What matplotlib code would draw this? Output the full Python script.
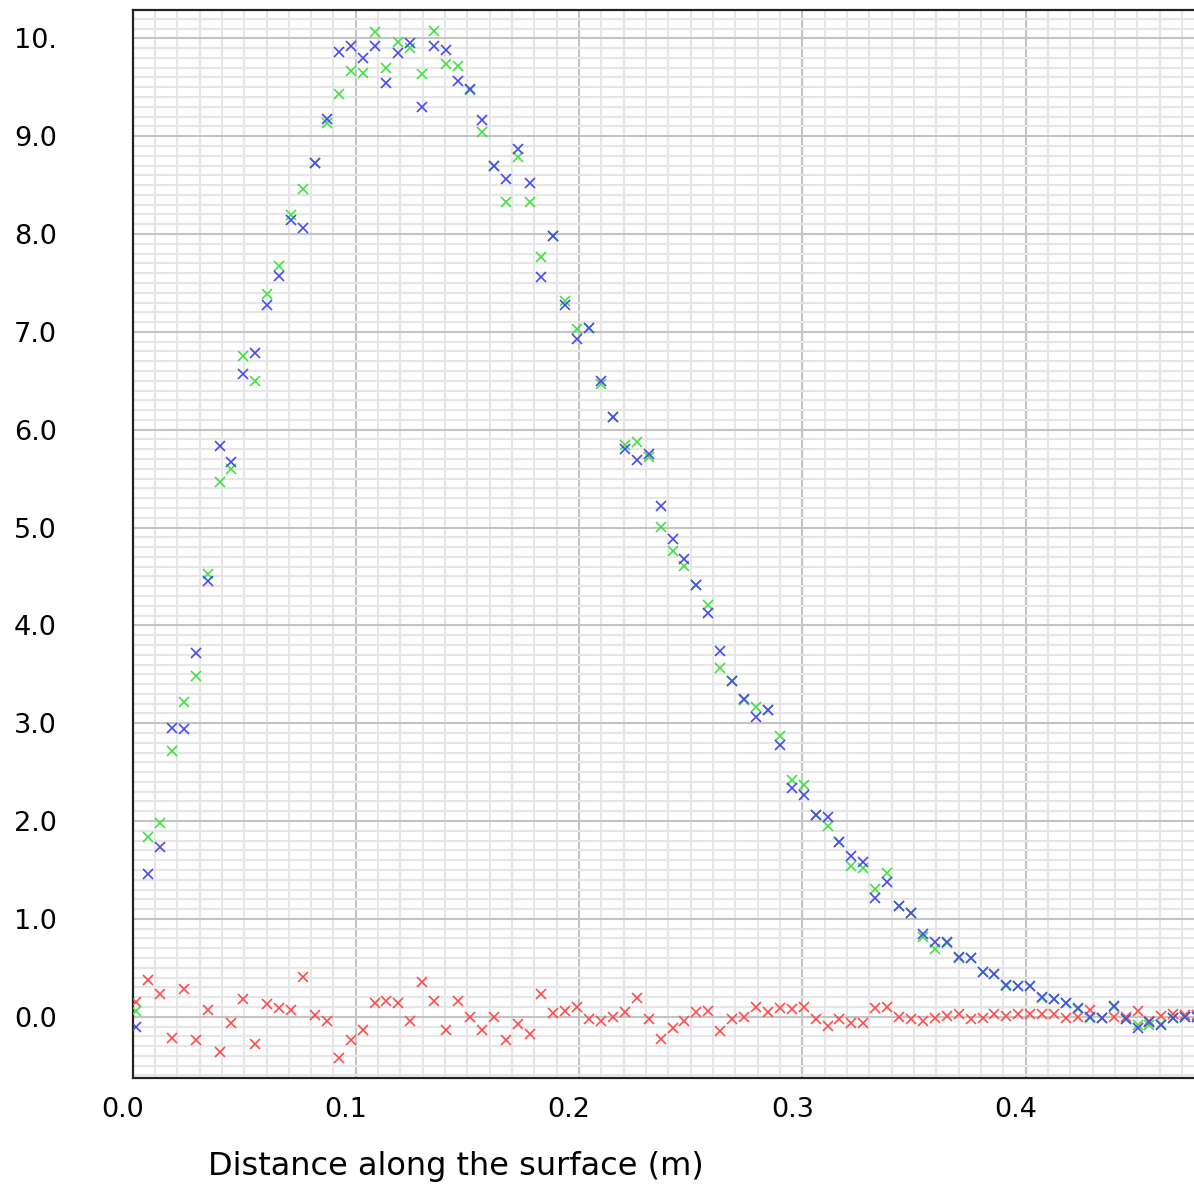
import numpy as np
import matplotlib.pyplot as plt
from matplotlib.ticker import MultipleLocator
from matplotlib.transforms import ScaledTranslation

# sample positions along the surface (m)
x_pos = np.linspace(0.0016, 0.4768, 90)

green_vals = [0.06, 1.84, 1.98, 2.72, 3.22, 3.48, 4.53, 5.47, 5.60, 6.75,
              6.50, 7.39, 7.67, 8.19, 8.46, 8.73, 9.13, 9.43, 9.67, 9.65,
              10.06, 9.70, 9.96, 9.90, 9.64, 10.08, 9.74, 9.72, 9.47, 9.04,
              8.70, 8.33, 8.79, 8.33, 7.77, 7.98, 7.32, 7.03, 7.04, 6.47,
              6.13, 5.84, 5.87, 5.72, 5.01, 4.76, 4.61, 4.41, 4.21, 3.56,
              3.43, 3.24, 3.17, 3.13, 2.87, 2.42, 2.37, 2.06, 1.95, 1.79,
              1.54, 1.52, 1.31, 1.47, 1.13, 1.06, 0.81, 0.69, 0.75, 0.60,
              0.60, 0.46, 0.44, 0.31, 0.31, 0.31, 0.19, 0.18, 0.14, 0.08,
              -0.01, -0.01, 0.10, -0.02, -0.08, -0.08, -0.07, -0.01, 0.00, 0.00]

blue_vals = [-0.10, 1.46, 1.73, 2.95, 2.94, 3.72, 4.45, 5.83, 5.67, 6.57,
             6.78, 7.27, 7.57, 8.14, 8.06, 8.73, 9.18, 9.86, 9.92, 9.80,
             9.92, 9.54, 9.85, 9.95, 9.30, 9.92, 9.88, 9.56, 9.48, 9.17,
             8.70, 8.56, 8.87, 8.52, 7.56, 7.98, 7.27, 6.93, 7.04, 6.50,
             6.13, 5.80, 5.69, 5.75, 5.22, 4.88, 4.68, 4.41, 4.13, 3.74,
             3.43, 3.25, 3.06, 3.13, 2.78, 2.34, 2.27, 2.06, 2.04, 1.79,
             1.64, 1.58, 1.21, 1.38, 1.13, 1.06, 0.85, 0.76, 0.76, 0.61,
             0.60, 0.46, 0.44, 0.32, 0.31, 0.31, 0.20, 0.18, 0.14, 0.09,
             0.00, -0.01, 0.11, -0.02, -0.12, -0.05, -0.08, -0.01, 0.00, 0.00]

red_vals = [0.15, 0.38, 0.23, -0.22, 0.28, -0.24, 0.07, -0.36, -0.06, 0.18,
            -0.28, 0.13, 0.09, 0.07, 0.41, 0.02, -0.04, -0.42, -0.24, -0.14,
            0.14, 0.16, 0.14, -0.04, 0.35, 0.16, -0.14, 0.16, 0.00, -0.14,
            0.00, -0.24, -0.07, -0.18, 0.23, 0.04, 0.06, 0.10, -0.02, -0.04,
            0.00, 0.05, 0.19, -0.02, -0.23, -0.12, -0.04, 0.05, 0.06, -0.15,
            -0.02, 0.00, 0.10, 0.05, 0.09, 0.08, 0.10, -0.02, -0.09, -0.02,
            -0.06, -0.06, 0.09, 0.10, 0.00, -0.02, -0.04, -0.01, 0.01, 0.03,
            -0.02, -0.01, 0.03, 0.01, 0.03, 0.03, 0.03, 0.03, -0.01, 0.00,
            0.07, -0.01, 0.00, 0.00, 0.06, -0.04, 0.01, 0.03, 0.02, 0.02]

x_ticks = [0.0, 0.1, 0.2, 0.3, 0.4]
x_tick_labels = ["0.0", "0.1", "0.2", "0.3", "0.4"]
y_ticks = [0, 1, 2, 3, 4, 5, 6, 7, 8, 9, 10]
y_tick_labels = ["0.0", "1.0", "2.0", "3.0", "4.0", "5.0", "6.0", "7.0", "8.0", "9.0", "10."]

plt.rcParams['font.family'] = ['DejaVu Sans']

fig = plt.figure(figsize=(11.94, 11.84), dpi=100)
ax = fig.add_axes([0.1110, 0.0895, 0.8890, 0.9020])

mk = dict(linestyle='none', marker='x', markersize=7.5, markeredgewidth=1.2)
ax.plot(x_pos, red_vals, color='#ff4d4d', zorder=3, **mk)
ax.plot(x_pos, green_vals, color='#44e044', zorder=4, **mk)
ax.plot(x_pos, blue_vals, color='#4a4aee', zorder=5, **mk)

ax.set_xlim(0, 0.4754)
ax.set_ylim(-0.6265, 10.289)

ax.xaxis.set_minor_locator(MultipleLocator(0.01))
ax.yaxis.set_minor_locator(MultipleLocator(0.1))
ax.set_xticks(x_ticks)
ax.set_xticklabels(x_tick_labels)
ax.set_yticks(y_ticks)
ax.set_yticklabels(y_tick_labels, ha='left')

ax.set_axisbelow(True)
ax.grid(which='minor', color='#e6e6e6', linewidth=1.5)
ax.grid(which='major', color='#c4c4c4', linewidth=1.5)

ax.tick_params(which='both', length=0)
ax.tick_params(axis='y', pad=85.5, labelsize=19.5)
ax.tick_params(axis='x', pad=13.7, labelsize=19.5)

# shift x labels a little to the left of their grid lines
for lab in ax.get_xticklabels():
    lab.set_transform(lab.get_transform() + ScaledTranslation(-0.10, 0, fig.dpi_scale_trans))

for side in ('top', 'left', 'bottom'):
    ax.spines[side].set_color('#222222')
    ax.spines[side].set_linewidth(1.6)
ax.spines['right'].set_visible(False)

ax.set_xlabel("Distance along the surface (m)", fontsize=23)
ax.xaxis.set_label_coords(0.3048, -0.0824)
ax.xaxis.label.set_va('center')

fig.savefig("out.png", dpi=100)
